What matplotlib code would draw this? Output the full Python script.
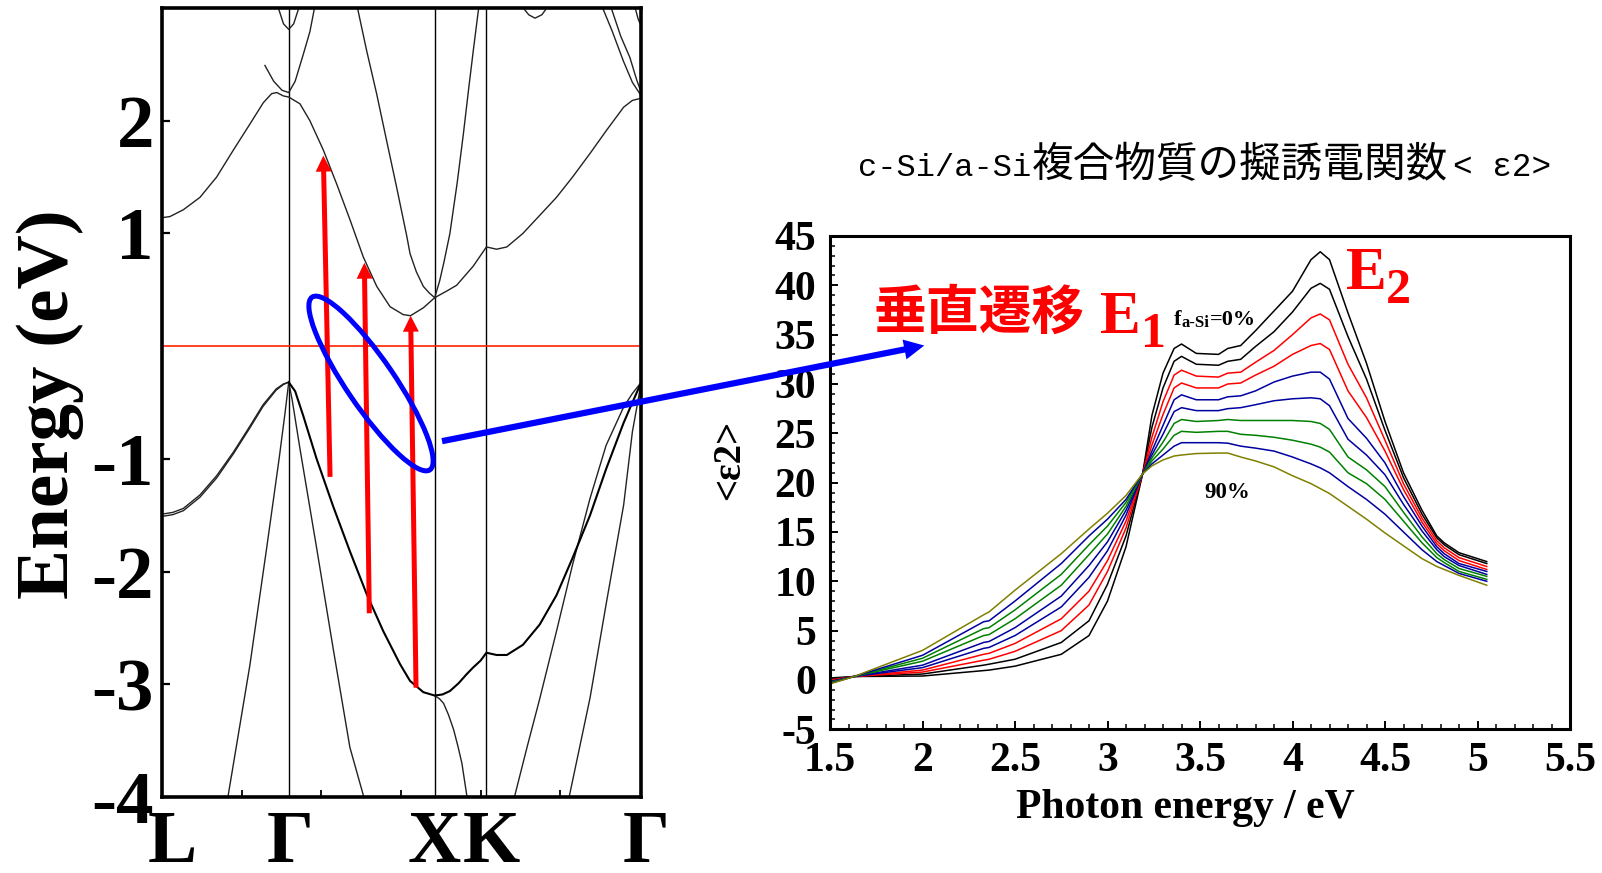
import matplotlib
matplotlib.use('Agg')
import matplotlib.pyplot as plt
from matplotlib.patches import Ellipse, FancyArrowPatch
from matplotlib.transforms import IdentityTransform

plt.rcParams['axes.unicode_minus'] = False

# ---------------- band structure data (k in 2pi/a, E in eV) ----------------
k_labels = ['L', 'Γ', 'X', 'K', 'Γ']
k_points = [0.0, 0.866, 1.866, 2.220, 3.281]
k_minor = [0.545, 1.090, 1.635, 2.180, 2.725]
e_ticks = [-4, -3, -2, -1, 1, 2]

cb1_k = [0.0, 0.053, 0.144, 0.258, 0.372, 0.487, 0.600, 0.692, 0.749, 0.784, 0.829, 0.866, 0.943, 1.011, 1.103,
         1.194, 1.286, 1.377, 1.469, 1.560, 1.650, 1.700, 1.788, 1.866, 1.950, 2.016, 2.130, 2.220, 2.290, 2.360,
         2.470, 2.585, 2.700, 2.810, 2.930, 3.040, 3.160, 3.220, 3.281]
cb1_e = [1.14, 1.15, 1.21, 1.32, 1.50, 1.74, 1.97, 2.16, 2.24, 2.25, 2.22, 2.21, 2.15, 2.00, 1.74,
         1.44, 1.12, 0.79, 0.53, 0.35, 0.28, 0.27, 0.34, 0.43, 0.49, 0.54, 0.71, 0.88, 0.86, 0.88,
         1.00, 1.16, 1.32, 1.50, 1.71, 1.91, 2.12, 2.18, 2.20]
cb2a_k = [1.330, 1.342, 1.400, 1.468, 1.537, 1.605, 1.674, 1.697, 1.740, 1.788, 1.830, 1.866]
cb2a_e = [3.05, 2.97, 2.62, 2.24, 1.82, 1.41, 0.98, 0.82, 0.66, 0.53, 0.47, 0.43]
cb2b_k = [1.866, 1.900, 1.930, 1.970, 2.020, 2.062, 2.100, 2.130, 2.164, 2.175]
cb2b_e = [0.43, 0.58, 0.75, 1.00, 1.45, 1.88, 2.30, 2.62, 2.97, 3.05]
cb3_k = [0.703, 0.763, 0.820, 0.866, 0.910, 0.966, 1.011, 1.050]
cb3_e = [2.49, 2.35, 2.27, 2.25, 2.35, 2.59, 2.79, 3.05]
cb4_k = [0.790, 0.830, 0.866, 0.900, 0.940]
cb4_e = [3.02, 2.86, 2.81, 2.86, 3.02]
cb5_k = [2.460, 2.510, 2.553, 2.600, 2.645]
cb5_e = [3.02, 2.94, 2.91, 2.94, 3.02]
cb6_k = [3.010, 3.080, 3.158, 3.220, 3.281]
cb6_e = [3.02, 2.80, 2.53, 2.34, 2.22]
cb7_k = [3.070, 3.140, 3.203, 3.250, 3.281]
cb7_e = [3.02, 2.75, 2.56, 2.36, 2.25]
cb8_k = [3.235, 3.260, 3.281]
cb8_e = [3.02, 2.90, 2.84]

vb1_k = [0.0, 0.072, 0.144, 0.258, 0.372, 0.487, 0.600, 0.690, 0.780, 0.830, 0.866]
vb1a_e = [-1.49, -1.475, -1.44, -1.32, -1.15, -0.94, -0.71, -0.52, -0.38, -0.335, -0.32]
vb1b_e = [-1.51, -1.495, -1.46, -1.34, -1.17, -0.955, -0.725, -0.535, -0.39, -0.34, -0.32]
vb2_k = [0.866, 0.910, 0.966, 1.057, 1.170, 1.285, 1.400, 1.514, 1.628, 1.697, 1.788, 1.866, 1.920, 1.970, 2.030,
         2.085, 2.130, 2.180, 2.220, 2.290, 2.360, 2.470, 2.585, 2.700, 2.810, 2.930, 3.040, 3.160, 3.220, 3.281]
vb2_e = [-0.32, -0.40, -0.62, -1.00, -1.42, -1.82, -2.20, -2.53, -2.82, -2.97, -3.07, -3.10, -3.09, -3.06, -2.99,
         -2.91, -2.85, -2.79, -2.72, -2.74, -2.74, -2.65, -2.47, -2.21, -1.88, -1.50, -1.09, -0.68, -0.50, -0.32]
vb3_k = [1.866, 1.900, 1.927, 1.960, 1.995, 2.025, 2.052, 2.085, 2.095]
vb3_e = [-3.10, -3.13, -3.17, -3.27, -3.40, -3.55, -3.70, -3.98, -4.05]
vb4_k = [0.440, 0.452, 0.600, 0.715, 0.800, 0.840, 0.866]
vb4_e = [-4.06, -3.98, -2.83, -1.79, -1.00, -0.60, -0.32]
vb5_k = [0.866, 0.890, 0.943, 1.057, 1.170, 1.285, 1.376, 1.390]
vb5_e = [-0.32, -0.48, -0.91, -1.79, -2.68, -3.56, -3.98, -4.05]
vb6_k = [2.400, 2.416, 2.500, 2.585, 2.700, 2.810, 2.930, 3.040, 3.160, 3.220, 3.281]
vb6_e = [-4.06, -3.98, -3.55, -3.13, -2.53, -1.94, -1.35, -0.88, -0.54, -0.42, -0.32]
vb7_k = [2.780, 2.790, 2.930, 3.040, 3.160, 3.220, 3.281]
vb7_e = [-4.06, -3.98, -3.12, -2.29, -1.41, -0.76, -0.32]

arrow_k_tail = [1.149, 1.418, 1.738]
arrow_e_tail = [-1.16, -2.37, -3.03]
arrow_k_head = [1.103, 1.384, 1.701]
arrow_e_head = [1.69, 0.74, 0.27]

# ---------------- dielectric function data ----------------
photon_e = [1.50, 1.63, 2.00, 2.33, 2.36, 2.50, 2.75, 2.90, 3.00, 3.10, 3.19, 3.24, 3.30, 3.36, 3.40, 3.48, 3.60,
            3.65, 3.72, 3.80, 3.90, 4.00, 4.10, 4.15, 4.20, 4.30, 4.40, 4.50, 4.60, 4.70, 4.78, 4.82, 4.90, 5.05]
eps_f0 = [0.2, 0.35, 0.4, 0.95, 1.0, 1.4, 2.6, 4.5, 8.0, 13.5, 20.9, 26.8, 31.1, 33.6, 34.05, 33.1, 33.0,
          33.6, 33.9, 35.4, 37.4, 39.4, 42.6, 43.4, 42.6, 37.2, 32.1, 26.2, 21.0, 17.2, 14.6, 13.9, 12.9, 12.0]
eps_f10 = [0.1, 0.35, 0.6, 1.5, 1.6, 2.1, 3.8, 6.0, 9.7, 14.6, 20.9, 25.6, 29.6, 32.3, 32.8, 32.0, 31.9,
           32.3, 32.5, 33.8, 35.3, 37.3, 39.7, 40.2, 39.6, 34.8, 30.5, 25.3, 20.5, 16.8, 14.4, 13.7, 12.7, 11.8]
eps_f20 = [0.0, 0.35, 0.8, 2.0, 2.1, 2.9, 5.0, 7.6, 11.0, 15.4, 20.9, 24.6, 28.2, 30.9, 31.4, 30.8, 30.7,
           31.1, 31.2, 32.2, 33.4, 35.0, 36.7, 37.1, 36.5, 32.0, 28.6, 24.3, 19.9, 16.4, 14.1, 13.4, 12.4, 11.5]
eps_f30 = [-0.1, 0.35, 1.0, 2.6, 2.7, 3.7, 6.2, 9.0, 12.1, 16.1, 20.9, 23.8, 26.9, 29.6, 30.1, 29.6, 29.6,
           30.0, 30.1, 30.9, 31.8, 33.0, 33.9, 34.1, 33.5, 29.3, 26.6, 23.2, 19.3, 16.0, 13.8, 13.1, 12.1, 11.2]
eps_f40 = [-0.15, 0.35, 1.25, 3.2, 3.3, 4.5, 7.4, 10.4, 13.1, 16.7, 20.9, 23.2, 25.8, 28.4, 28.9, 28.4, 28.4,
           28.7, 28.8, 29.3, 30.2, 30.8, 31.2, 31.2, 30.5, 26.5, 24.5, 22.0, 18.6, 15.6, 13.5, 12.8, 11.8, 11.0]
eps_f50 = [-0.2, 0.35, 1.5, 3.8, 3.9, 5.3, 8.5, 11.6, 14.0, 17.2, 20.9, 22.8, 24.9, 27.2, 27.6, 27.3, 27.3,
           27.5, 27.6, 27.9, 28.3, 28.5, 28.6, 28.5, 27.8, 24.4, 22.8, 20.8, 17.8, 15.1, 13.2, 12.5, 11.6, 10.7]
eps_f60 = [-0.25, 0.35, 1.9, 4.5, 4.6, 6.2, 9.6, 12.7, 14.8, 17.6, 20.9, 22.5, 24.1, 26.0, 26.4, 26.2, 26.3,
           26.4, 26.3, 26.3, 26.3, 26.3, 26.2, 26.0, 25.4, 22.6, 21.3, 19.6, 17.0, 14.5, 12.8, 12.2, 11.3, 10.5]
eps_f70 = [-0.3, 0.35, 2.2, 5.2, 5.3, 7.1, 10.7, 13.7, 15.6, 18.0, 20.9, 22.2, 23.4, 24.8, 25.2, 25.1, 25.2,
           25.2, 24.9, 24.8, 24.6, 24.3, 23.9, 23.6, 23.1, 21.0, 19.9, 18.3, 16.1, 13.9, 12.4, 11.9, 11.0, 10.2]
eps_f80 = [-0.35, 0.35, 2.5, 5.9, 6.0, 8.0, 11.8, 14.6, 16.3, 18.3, 20.9, 21.9, 22.8, 23.7, 24.05, 24.05, 24.05,
           24.0, 23.7, 23.5, 23.2, 22.6, 21.9, 21.5, 21.0, 19.6, 18.3, 16.8, 15.0, 13.2, 12.0, 11.6, 10.8, 10.0]
eps_f90 = [-0.4, 0.35, 3.0, 6.6, 6.9, 9.1, 12.8, 15.3, 16.9, 18.7, 20.9, 21.7, 22.3, 22.7, 22.8, 22.95, 23.0,
           23.0, 22.6, 22.2, 21.6, 20.7, 19.9, 19.4, 18.9, 17.6, 16.3, 14.9, 13.6, 12.3, 11.5, 11.2, 10.6, 9.6]
eps_curves = [eps_f0, eps_f10, eps_f20, eps_f30, eps_f40, eps_f50, eps_f60, eps_f70, eps_f80, eps_f90]
eps_colors = ['#000000', '#000000', '#ff0000', '#ff0000', '#0000a0', '#0000a0',
              '#008000', '#008000', '#0000a0', '#808000']
x_tick_vals = [1.5, 2, 2.5, 3, 3.5, 4, 4.5, 5, 5.5]
x_tick_labels = ['1.5', '2', '2.5', '3', '3.5', '4', '4.5', '5', '5.5']
y_tick_vals = [-5, 0, 5, 10, 15, 20, 25, 30, 35, 40, 45]

# ---------------- figure ----------------
W, H = 1602, 873
fig = plt.figure(figsize=(W / 100, H / 100), dpi=100)
SERIF = 'Liberation Serif'


def T(x, y, s, **kw):
    return fig.text(x / W, 1 - y / H, s, **kw)


# ----- left panel: band structure -----
axL = fig.add_axes([162.3 / W, 1 - 797 / H, (641.3 - 162.3) / W, (797 - 8) / H])
axL.set_xlim(k_points[0], k_points[-1])
axL.set_ylim(-4, 3)
for k in k_points[1:4]:
    axL.axvline(k, color='black', lw=1.0, zorder=1)
axL.axhline(0, color='#ff2000', lw=1.2, zorder=1)

thin = dict(color='#222222', lw=1.0, zorder=2)
thick = dict(color='black', lw=1.5, zorder=2)
for kk, ee in [(cb1_k, cb1_e), (cb2a_k, cb2a_e), (cb2b_k, cb2b_e), (cb3_k, cb3_e), (cb4_k, cb4_e),
               (cb5_k, cb5_e), (cb6_k, cb6_e), (cb7_k, cb7_e), (cb8_k, cb8_e),
               (vb1_k, vb1a_e), (vb1_k, vb1b_e), (vb3_k, vb3_e), (vb4_k, vb4_e), (vb5_k, vb5_e),
               (vb6_k, vb6_e), (vb7_k, vb7_e)]:
    axL.plot(kk, ee, **thin)
axL.plot(vb2_k, vb2_e, **thick)

for kt, et, kh, eh in zip(arrow_k_tail, arrow_e_tail, arrow_k_head, arrow_e_head):
    axL.annotate('', xy=(kh, eh), xytext=(kt, et),
                 arrowprops=dict(arrowstyle='simple,head_length=1.15,head_width=1.15,tail_width=0.36',
                                 color='#ff0000', lw=0, shrinkA=0, shrinkB=0, mutation_scale=10),
                 annotation_clip=False, zorder=5)

axL.set_xticks([])
axL.set_xticks(k_minor, minor=True)
axL.set_yticks(e_ticks)
axL.set_yticklabels([str(v) for v in e_ticks])
axL.tick_params(axis='y', which='major', direction='in', length=6, width=1.6, left=True, right=False,
                labelsize=54, pad=6)
axL.tick_params(axis='x', which='minor', direction='in', length=5, width=1.3, bottom=True, top=False,
                labelbottom=False)
for lab in axL.get_yticklabels():
    lab.set_fontfamily(SERIF)
    lab.set_fontweight('bold')
for sp in axL.spines.values():
    sp.set_linewidth(2.6)

for lab, xc in zip(k_labels, [172, 290, 434, 491, 646]):
    T(xc, 862, lab, ha='center', va='baseline', fontsize=53, fontweight='bold', family=SERIF)
T(50, 404, 'Energy (eV)', rotation=90, ha='center', va='center', fontsize=54, fontweight='bold', family=SERIF)

# ----- right panel: dielectric function -----
axR = fig.add_axes([830 / W, 1 - 729.3 / H, 740 / W, 493.3 / H])
for vals, col in zip(eps_curves, eps_colors):
    axR.plot(photon_e, vals, color=col, lw=1.1)
axR.set_xlim(1.5, 5.5)
axR.set_ylim(-5, 45)
axR.set_xticks(x_tick_vals)
axR.set_xticklabels(x_tick_labels)
axR.set_yticks(y_tick_vals)
axR.set_yticklabels([str(v) for v in y_tick_vals])
axR.set_xticks([1.5 + 0.1 * i for i in range(41)], minor=True)
axR.set_yticks(list(range(-5, 46)), minor=True)
axR.tick_params(which='major', direction='in', length=6, width=1.4, top=False, right=False, labelsize=30)
axR.tick_params(axis='x', which='major', pad=9)
axR.tick_params(axis='y', which='major', pad=10)
axR.tick_params(which='minor', direction='in', length=3.5, width=1.1, top=False, right=False)
for lab in axR.get_xticklabels() + axR.get_yticklabels():
    lab.set_fontfamily(SERIF)
    lab.set_fontweight('bold')
for sp in axR.spines.values():
    sp.set_linewidth(2.2)

T(1185, 818, 'Photon energy / eV', ha='center', va='baseline', fontsize=30, fontweight='bold', family=SERIF)
T(730, 460, '<ε2>', rotation=90, ha='center', va='center', fontsize=28, fontweight='bold', family=SERIF)

# title
T(858, 176, 'c-Si/a-Si', ha='left', va='baseline', fontsize=23, family='Liberation Mono')
T(1032, 177, '複合物質の擬誘電関数', ha='left', va='baseline', fontsize=30, family='Noto Sans CJK JP')
T(1453, 176, '< ε2>', ha='left', va='baseline', fontsize=23.5, family='Liberation Mono')

# annotations
T(873, 329, '垂直遷移', ha='left', va='baseline', fontsize=38, fontweight='bold', color='#ff0000',
  family='Noto Sans CJK JP')
T(1100, 333, 'E', ha='left', va='baseline', fontsize=44, fontweight='bold', color='#ff0000', family=SERIF)
T(1141, 347, '1', ha='left', va='baseline', fontsize=36, fontweight='bold', color='#ff0000', family=SERIF)
T(1346, 289, 'E', ha='left', va='baseline', fontsize=44, fontweight='bold', color='#ff0000', family=SERIF)
T(1386, 303, '2', ha='left', va='baseline', fontsize=36, fontweight='bold', color='#ff0000', family=SERIF)
T(1174, 325, 'f', ha='left', va='baseline', fontsize=16, fontweight='bold', family=SERIF)
T(1181, 327, 'a-Si', ha='left', va='baseline', fontsize=12, fontweight='bold', family=SERIF)
T(1210, 325, '=0%', ha='left', va='baseline', fontsize=16, fontweight='bold', family=SERIF)
T(1204, 498, '90%', ha='left', va='baseline', fontsize=16.5, fontweight='bold', family=SERIF)

# blue ellipse and connecting arrow (figure pixel coordinates)
ell = Ellipse((371, H - 383.5), width=209, height=48, angle=-55.7, fill=False, ec='#0000ff', lw=3.6,
              transform=IdentityTransform(), zorder=6)
fig.add_artist(ell)
arr = FancyArrowPatch(posA=(439.3, H - 441.7), posB=(927, H - 345),
                      arrowstyle='simple,head_length=1.45,head_width=1.45,tail_width=0.45',
                      mutation_scale=10, color='#0000ff', lw=0, transform=IdentityTransform(), zorder=6)
fig.add_artist(arr)

fig.savefig('out.png', dpi=100)
